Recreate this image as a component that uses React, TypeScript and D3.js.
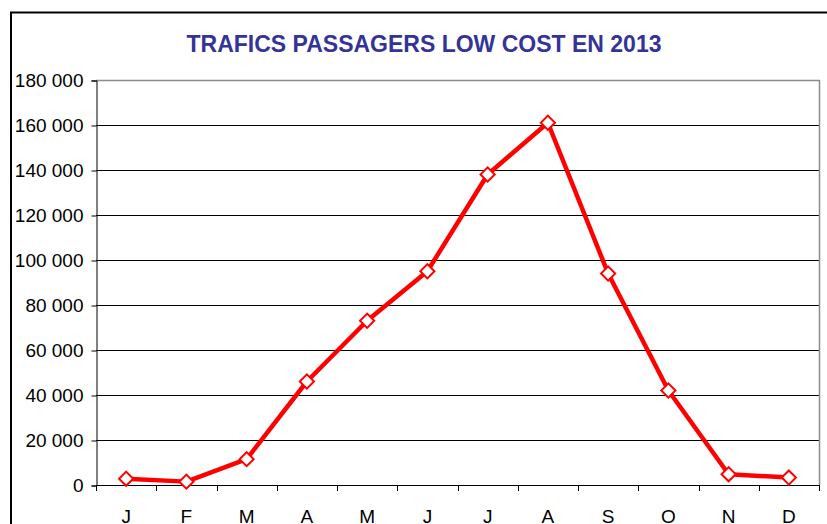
import React, { useEffect, useRef } from "react";
import * as d3 from "d3";

const months = ["J", "F", "M", "A", "M", "J", "J", "A", "S", "O", "N", "D"];
const passengers = [2800, 1500, 11500, 46000, 73000, 95000, 138000, 161000, 94000, 42000, 4800, 3300];
const yTicks = [0, 20000, 40000, 60000, 80000, 100000, 120000, 140000, 160000, 180000];
const title = "TRAFICS PASSAGERS LOW COST EN 2013";

const App = () => {
  const svgRef = useRef<SVGSVGElement>(null);

  useEffect(() => {
    const svg = d3.select(svgRef.current);
    svg.selectAll("*").remove();

    const width = 827, height = 524;
    const left = 96, right = 819, top = 80, bottom = 485;
    const font = "'Liberation Sans', Arial, sans-serif";

    svg.append("rect")
      .attr("width", width).attr("height", height).attr("fill", "white");

    // outer chart frame (runs past the visible area)
    svg.append("rect")
      .attr("x", 11).attr("y", 12.5)
      .attr("width", 840).attr("height", 540)
      .attr("fill", "none").attr("stroke", "black").attr("stroke-width", 2);

    svg.append("text")
      .attr("x", 424).attr("y", 52)
      .attr("text-anchor", "middle")
      .attr("fill", "#333399")
      .style("font-family", font)
      .style("font-weight", "bold")
      .style("font-size", "23px")
      .text(title);

    const x = d3.scaleBand().domain(months.map((_, i) => String(i))).range([left, right]);
    const y = d3.scaleLinear().domain([0, 180000]).range([bottom, top]);

    // gridlines
    svg.append("g")
      .selectAll("line")
      .data(yTicks.filter(t => t > 0 && t < 180000))
      .join("line")
      .attr("x1", left).attr("x2", right)
      .attr("y1", d => y(d) + 0.5).attr("y2", d => y(d) + 0.5)
      .attr("stroke", "black").attr("stroke-width", 1);

    // plot area border (top + right grey)
    svg.append("path")
      .attr("d", `M${left},${top + 0.5}H${right + 0.5}V${bottom}`)
      .attr("fill", "none").attr("stroke", "#8c8c8c").attr("stroke-width", 1.5);

    // y axis
    const yAxis = d3.axisLeft(y)
      .tickValues(yTicks)
      .tickSize(5)
      .tickPadding(8)
      .tickFormat(d => d3.format(",")(d as number).replace(/,/g, " "));
    const gy = svg.append("g").attr("transform", `translate(${left + 0.5},0.5)`).call(yAxis);
    gy.select(".domain").attr("stroke", "black");
    gy.selectAll(".tick line").attr("stroke", "black");
    gy.selectAll(".tick text")
      .attr("fill", "black")
      .style("font-family", font)
      .style("font-size", "19px");

    // x axis: ticks at category boundaries
    const boundaries = d3.range(months.length + 1).map(i => left + i * x.bandwidth());
    svg.append("line")
      .attr("x1", left).attr("x2", right + 1)
      .attr("y1", bottom + 0.5).attr("y2", bottom + 0.5)
      .attr("stroke", "black");
    svg.append("g")
      .selectAll("line")
      .data(boundaries)
      .join("line")
      .attr("x1", d => Math.round(d) + 0.5).attr("x2", d => Math.round(d) + 0.5)
      .attr("y1", bottom).attr("y2", bottom + 6)
      .attr("stroke", "black");
    svg.append("g")
      .selectAll("text")
      .data(months)
      .join("text")
      .attr("x", (_, i) => x(String(i))! + x.bandwidth() / 2)
      .attr("y", 523)
      .attr("text-anchor", "middle")
      .style("font-family", font)
      .style("font-size", "19px")
      .text(d => d);

    const cx = (i: number) => x(String(i))! + x.bandwidth() / 2;

    const line = d3.line<number>()
      .x((_, i) => cx(i))
      .y(d => y(d));

    svg.append("path")
      .datum(passengers)
      .attr("d", line)
      .attr("fill", "none")
      .attr("stroke", "#ff0000")
      .attr("stroke-width", 4.5)
      .attr("stroke-linejoin", "round");

    const diamond = d3.symbol().type(d3.symbolSquare).size(100);
    svg.append("g")
      .selectAll("path")
      .data(passengers)
      .join("path")
      .attr("d", diamond)
      .attr("transform", (d, i) => `translate(${cx(i)},${y(d)}) rotate(45)`)
      .attr("fill", "white")
      .attr("stroke", "#ff0000")
      .attr("stroke-width", 2);
  }, []);

  return (
    <svg
      ref={svgRef}
      width={827}
      height={524}
      style={{ position: "absolute", left: 0, top: 0 }}
    ></svg>
  );
};

export default App;
